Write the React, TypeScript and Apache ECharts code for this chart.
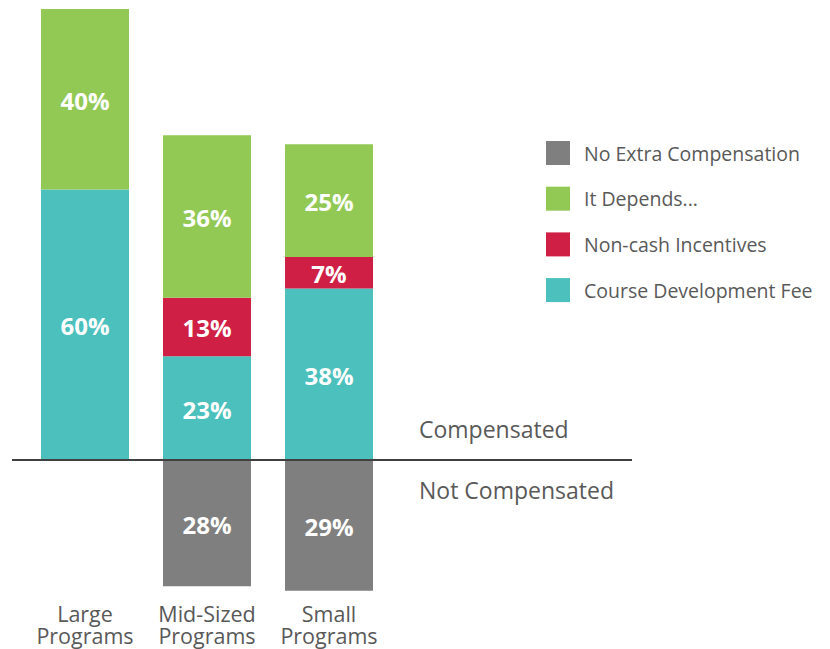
import React, { useEffect, useRef } from "react";
import * as echarts from "echarts";

const categories = ["Large\nPrograms", "Mid-Sized\nPrograms", "Small\nPrograms"];
const courseFee = [60, 23, 38];
const nonCash = [null, 13, 7];
const itDepends = [40, 36, 25];
const noExtra = [null, -28, -29];
const legendNames = ["No Extra Compensation", "It Depends...", "Non-cash Incentives", "Course Development Fee"];

const FONT = "'Open Sans', 'Noto Sans', sans-serif";
const TEXT = "#595959";

export default function App() {
  const ref = useRef<HTMLDivElement>(null);
  useEffect(() => {
    if (!ref.current) return;
    const chart = echarts.init(ref.current, undefined, { renderer: "svg" });
    const label = {
      show: true,
      position: "inside",
      offset: [0, 1],
      color: "#fff",
      fontFamily: FONT,
      fontWeight: "bold",
      fontSize: 24,
      formatter: (p: any) => `${Math.abs(p.value)}%`,
    };
    const mk = (name: string, data: any[], color: string) => ({
      name,
      type: "bar",
      stack: "total",
      data,
      barWidth: 88,
      itemStyle: { color },
      label,
    });
    const axisCommon = {
      type: "category",
      data: categories,
      position: "bottom",
      axisLine: { show: false, onZero: false },
      axisTick: { show: false },
    };
    const labelCommon = { interval: 0, hideOverlap: false, color: TEXT, fontSize: 21.5, lineHeight: 22, fontFamily: FONT };
    chart.setOption({
      animation: false,
      textStyle: { fontFamily: FONT },
      grid: { left: 24, width: 366, top: 9, height: 586.3 },
      xAxis: [
        { ...axisCommon, axisLabel: { ...labelCommon, margin: 7, formatter: (v: string) => v.split("\n")[0] } },
        { ...axisCommon, axisLabel: { ...labelCommon, margin: 29, formatter: (v: string) => v.split("\n")[1] } },
      ],
      yAxis: { type: "value", min: -30, max: 100, show: false, splitLine: { show: false } },
      legend: {
        orient: "vertical",
        left: 546,
        top: 141,
        padding: 0,
        itemWidth: 24,
        itemHeight: 24,
        itemGap: 21.7,
        icon: "rect",
        data: legendNames,
        textStyle: { color: TEXT, fontSize: 19.5, fontFamily: FONT, padding: [0, 0, 0, 9] },
        selectedMode: false,
      },
      series: [
        mk("Course Development Fee", courseFee, "#4bc0bd"),
        mk("Non-cash Incentives", nonCash, "#d01f45"),
        mk("It Depends...", itDepends, "#92c955"),
        mk("No Extra Compensation", noExtra, "#7f7f7f"),
      ],
    });
    const zeroY = chart.convertToPixel({ yAxisIndex: 0 }, 0) as number;
    chart.setOption({
      graphic: [
        { type: "line", shape: { x1: 12, y1: zeroY, x2: 632, y2: zeroY }, style: { stroke: "#404040", lineWidth: 2 }, z: 100 },
        { type: "text", x: 419, y: zeroY - 31, style: { text: "Compensated", fill: TEXT, fontSize: 23, fontFamily: FONT, textVerticalAlign: "middle" } },
        { type: "text", x: 419, y: zeroY + 30, style: { text: "Not Compensated", fill: TEXT, fontSize: 23, fontFamily: FONT, textVerticalAlign: "middle" } },
      ],
    });
    return () => chart.dispose();
  }, []);
  return <div ref={ref} style={{ width: 830, height: 649, position: "absolute", left: 0, top: 0 }} />;
}
